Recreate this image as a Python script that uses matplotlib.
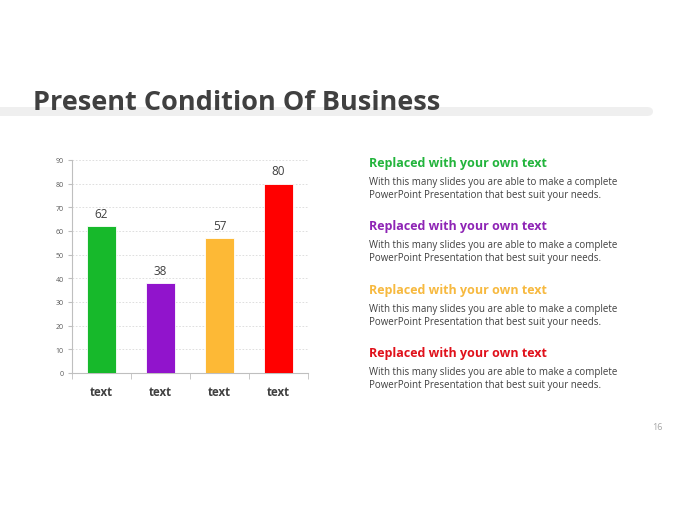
import matplotlib.pyplot as plt
from matplotlib.patches import FancyBboxPatch

categories = ["text", "text", "text", "text"]
values = [62, 38, 57, 80]
colors = ["#17B92B", "#9114CC", "#FDB936", "#FF0000"]
heading_colors = ["#22B43C", "#8E24B5", "#F7B93F", "#E0111B"]
headings = ["Replaced with your own text"] * 4
body = "With this many slides you are able to make a complete\nPowerPoint Presentation that best suit your needs."
yticks = list(range(0, 91, 10))

plt.rcParams['font.family'] = ['Open Sans', 'DejaVu Sans']

fig = plt.figure(figsize=(6.8, 5.1), dpi=100)
W, H = 680, 510

# grey band behind title
band = FancyBboxPatch((-20 / W, 1 - 117 / H), 673 / W, 9 / H,
                      boxstyle="round,pad=0,rounding_size=0.009",
                      transform=fig.transFigure, facecolor="#EFEFEF",
                      edgecolor="none", zorder=0)
fig.patches.append(band)
fig.text(33 / W, 1 - 103 / H, "Present Condition Of Business", fontsize=19.5,
         fontweight="bold", color="#404040", va="center", ha="left")

ax = fig.add_axes([72 / W, 1 - 374 / H, 236 / W, 213 / H])
x = list(range(len(values)))
ax.bar(x, values, width=0.5, color=colors, edgecolor="white", linewidth=0.6, zorder=3)
for xi, v in zip(x, values):
    ax.text(xi, v + 2.7, str(v), ha="center", va="bottom", fontsize=8.5, color="#404040")

ax.set_xlim(-0.5, len(values) - 0.5)
ax.set_ylim(0, 90)
ax.set_yticks(yticks)
ax.set_yticklabels([str(t) for t in yticks], fontsize=5, color="#595959")
ax.tick_params(axis="y", length=3, color="#BFBFBF", pad=3)
ax.set_xticks(x)
ax.set_xticklabels(categories, fontsize=8.3, fontweight="bold", color="#404040")
ax.tick_params(axis="x", which="major", length=0, pad=9)
ax.set_xticks([i - 0.5 for i in range(len(values) + 1)], minor=True)
ax.tick_params(axis="x", which="minor", length=4, color="#BFBFBF")
ax.grid(axis="y", linestyle=(0, (2, 2)), color="#D9D9D9", linewidth=0.6, zorder=0)
for s in ["top", "right"]:
    ax.spines[s].set_visible(False)
for s in ["left", "bottom"]:
    ax.spines[s].set_color("#BFBFBF")
    ax.spines[s].set_linewidth(0.8)

# right text blocks
tops = [164, 227, 291, 354]
for y0, h, c in zip(tops, headings, heading_colors):
    fig.text(369 / W, 1 - y0 / H, h, fontsize=9.0, fontweight="bold", color=c,
             va="center", ha="left")
    fig.text(369 / W, 1 - (y0 + 13) / H, body, fontsize=7.0, color="#404040",
             va="top", ha="left", linespacing=1.3)

fig.text(663 / W, 1 - 428 / H, "16", fontsize=6.5, color="#A6A6A6", ha="right", va="center")

fig.savefig("out.png", dpi=100)
